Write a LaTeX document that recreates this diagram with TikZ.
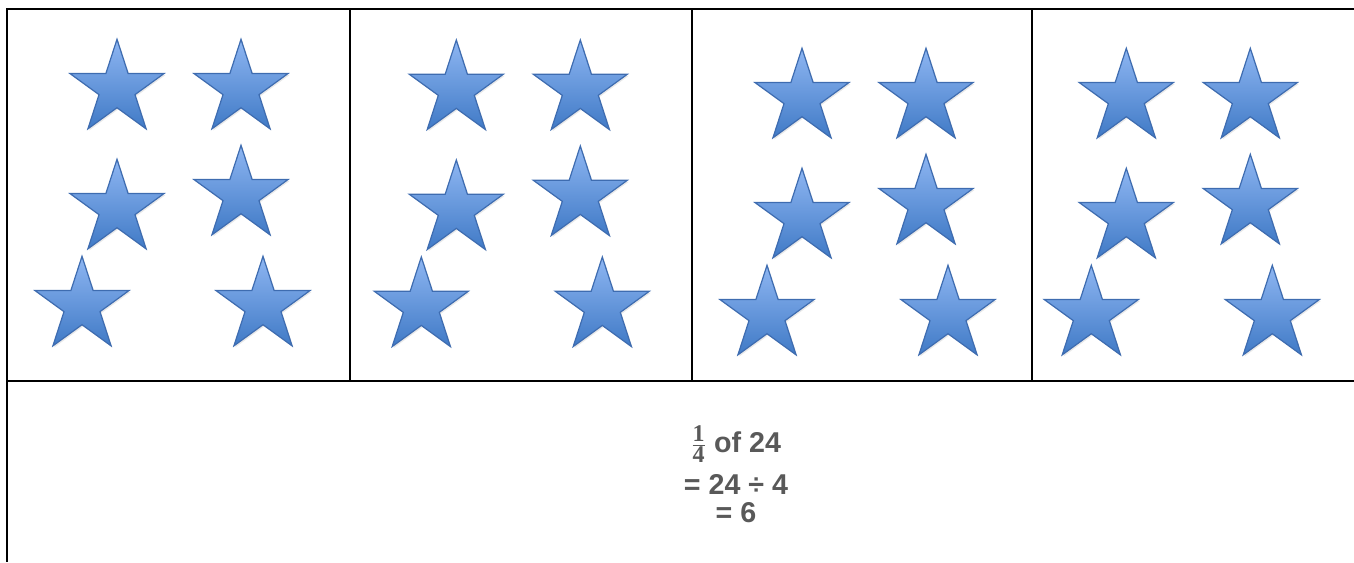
\documentclass[tikz,border=0pt]{standalone}
\usepackage{amsmath}
\usepackage{fontspec}
\setmainfont{Liberation Sans}
\newfontfamily\fsserif{Liberation Serif}
\usetikzlibrary{shapes.geometric,shadows}
\definecolor{fsstartop}{RGB}{142,182,242}
\definecolor{fsstarbot}{RGB}{64,122,198}
\definecolor{fsstarline}{RGB}{62,108,176}
\definecolor{fsgray}{RGB}{89,89,89}
\newcommand{\fsdigit}[1]{\text{\fontsize{18}{18}\selectfont\fsserif\bfseries #1}}
\tikzset{
  fsstar/.style={
    star, star points=5, star point ratio=2.618,
    minimum size=74.25pt, inner sep=0pt,
    draw=fsstarline, line width=0.9pt,
    top color=fsstartop, bottom color=fsstarbot,
    drop shadow={opacity=0.18,shadow xshift=1pt,shadow yshift=-1.2pt}
  },
  fsgrid/.style={line width=1.5pt},
  fsmath/.style={
    font=\fontsize{21.5}{25}\selectfont\bfseries,
    text=fsgray, inner sep=0pt, anchor=base
  }
}

\begin{document}
\begin{tikzpicture}[x=0.75pt,y=-0.75pt]
  \useasboundingbox (0,0) rectangle (1354,562);
  % table
  \draw[fsgrid] (1354,9) -- (7,9) -- (7,562);
  \draw[fsgrid] (7,381) -- (1354,381);
  \foreach \x in {350,692,1032}
    \draw[fsgrid] (\x,9) -- (\x,381);
  % six stars in each of the four cells
  \foreach \cx/\cy [count=\c] in {117/88.8,456.3/89.5,802/97.8,1126.3/97.8}
    \foreach \dx/\dy [count=\i] in {0/0,124/0,0/120,124/106,-35/217,146/217}
      \node[fsstar] (s\c-\i) at ({\cx+\dx},{\cy+\dy}) {};
  % working
  \node[fsmath] (frac) at (736,452) {$\frac{\fsdigit{1}}{\fsdigit{4}}$ of 24};
  \node[fsmath] (divide) at (736,494) {= 24 ÷ 4};
  \node[fsmath] (result) at (736,522) {= 6};
\end{tikzpicture}
\end{document}
